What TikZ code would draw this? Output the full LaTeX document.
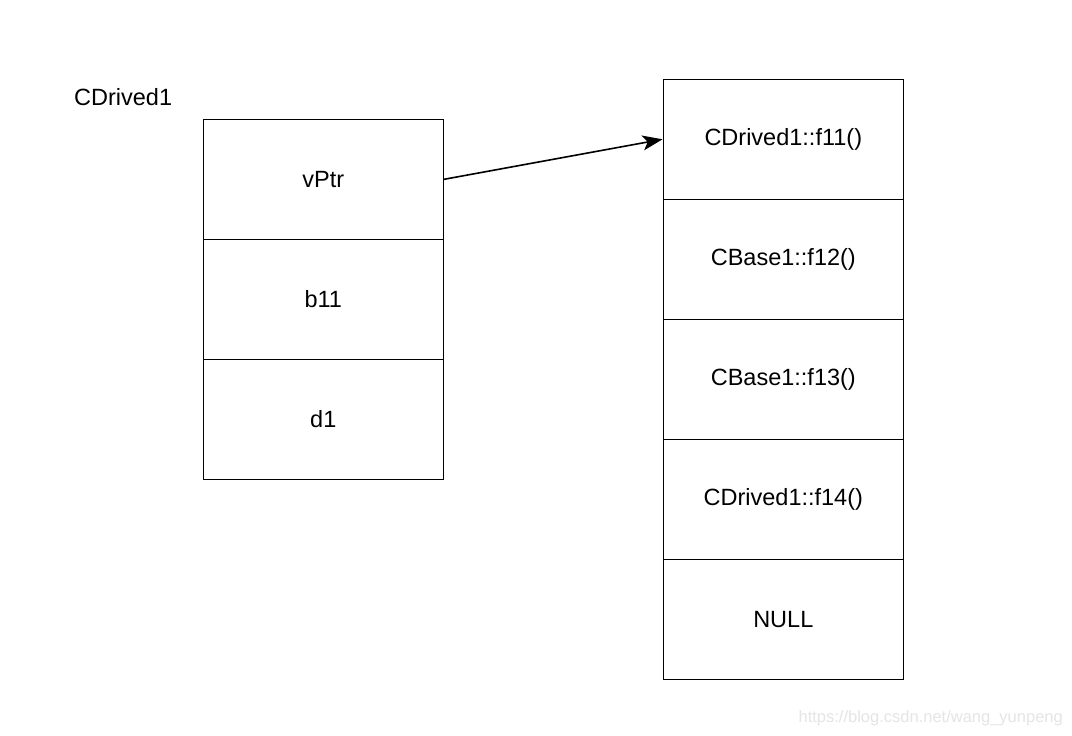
\documentclass[tikz,border=0pt]{standalone}
\usepackage{fontspec}
\setmainfont{Liberation Sans}
\usetikzlibrary{arrows.meta}
\begin{document}
\begin{tikzpicture}[x=1pt,y=-1pt,
  cell/.style={draw=black,line width=1.6pt,minimum width=240pt,minimum height=120pt,inner sep=0pt,anchor=north west,font=\fontsize{23.5}{27}\selectfont},
  lbl/.style={font=\fontsize{23.5}{27}\selectfont,inner sep=0pt},
  link/.style={line width=1.6pt,-{Stealth[length=20pt,width=15pt,inset=5pt]}}]
\useasboundingbox[fill=white] (0,0) rectangle (1072,736);
\node[lbl,anchor=west] (title) at (74,97) {CDrived1};
\node[cell] (vptr) at (202.5,118.5) {vPtr};
\node[cell] (b11) at (202.5,238.5) {b11};
\node[cell] (d1) at (202.5,358.5) {d1};
\node[cell] (f11) at (662.5,78.5) {CDrived1::f11()};
\node[cell] (f12) at (662.5,198.5) {CBase1::f12()};
\node[cell] (f13) at (662.5,318.5) {CBase1::f13()};
\node[cell] (f14) at (662.5,438.5) {CDrived1::f14()};
\node[cell] (null) at (662.5,558.5) {NULL};
\draw[link] (vptr.east) -- (f11.west);
\node[anchor=east,inner sep=0pt,text=black!10,font=\fontsize{16.5}{18}\selectfont] (wm) at (1063,718) {https://blog.csdn.net/wang\_yunpeng};
\end{tikzpicture}
\end{document}
